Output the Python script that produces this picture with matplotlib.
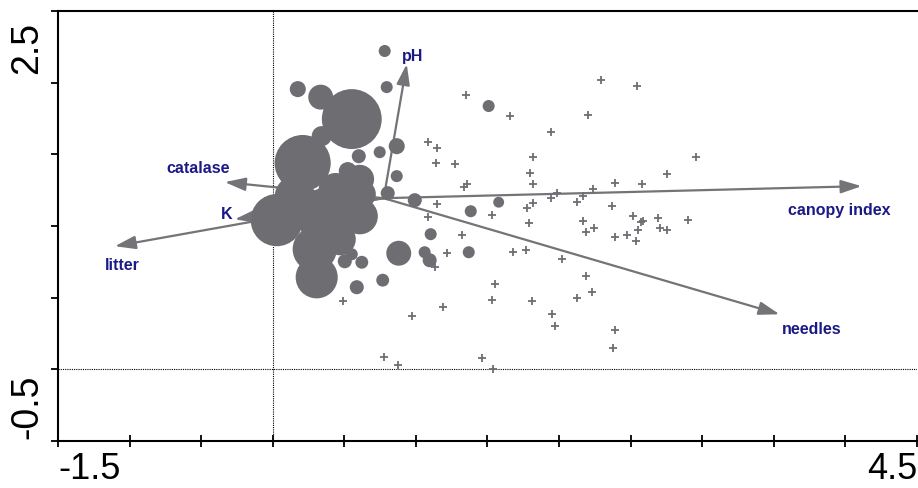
import numpy as np
import matplotlib
matplotlib.use("Agg")
import matplotlib.pyplot as plt
import matplotlib.transforms as mtransforms
from matplotlib.patches import Circle
from matplotlib.collections import PatchCollection

# ---- data (ordination scores) ----
# bubble sites: x, y, radius (data units)
bubble_x = [0.782, 0.175, 0.796, 0.866, 0.747, 0.601, 0.866, 0.803, 0.992, 1.508,
            1.103, 1.383, 1.578, 0.880, 1.061, 1.096, 1.369, 0.552, 0.503, 0.622,
            0.768, 0.587,
            0.552, 0.209, 0.335, 0.342, 0.028, 0.154, 0.384, 0.608, 0.503, 0.524,
            0.307, 0.293, 0.622, 0.468, 0.608, 0.440]
bubble_y = [2.221, 1.955, 1.969, 1.557, 1.515, 1.487, 1.348, 1.229, 1.180, 1.837,
            0.943, 1.103, 1.166, 0.810, 0.817, 0.761, 0.817, 0.803, 0.754, 0.747,
            0.622, 0.573,
            1.746, 1.439, 1.899, 1.627, 1.041, 1.208, 1.061, 1.068, 1.271, 1.383,
            0.642, 0.838, 1.222, 0.908, 1.327, 1.250]
bubble_r = [0.042, 0.056, 0.042, 0.056, 0.042, 0.049, 0.042, 0.049, 0.049, 0.042,
            0.042, 0.042, 0.038, 0.087, 0.042, 0.049, 0.042, 0.042, 0.049, 0.045,
            0.045, 0.049,
            0.209, 0.196, 0.087, 0.070, 0.182, 0.140, 0.209, 0.126, 0.098, 0.063,
            0.147, 0.154, 0.098, 0.112, 0.100, 0.120]

# cross sites
site_x = [1.348, 1.655, 2.291, 2.542, 2.200, 1.941, 1.082, 1.145, 1.138, 1.271,
          1.816, 1.795, 1.816, 2.954, 2.751, 2.388, 2.577, 2.235, 1.334, 1.355,
          1.983, 2.165, 1.941, 2.123, 1.816, 1.774, 1.145, 2.367, 1.082, 1.529,
          1.788, 2.165, 2.514, 2.570, 2.584, 2.689, 2.898, 2.186, 2.242, 2.549,
          2.703, 2.751, 2.388, 2.472, 1.320, 2.535, 1.215, 1.131, 1.676, 1.767,
          2.018, 2.186, 2.228, 2.123, 1.809, 1.550, 1.529, 1.187, 0.971, 1.948,
          1.969, 2.388, 2.374, 1.459, 1.536, 0.489, 0.775, 0.873]
site_y = [1.913, 1.767, 2.018, 1.976, 1.774, 1.655, 1.585, 1.543, 1.439, 1.432,
          1.480, 1.369, 1.292, 1.480, 1.362, 1.299, 1.292, 1.257, 1.271, 1.292,
          1.229, 1.208, 1.194, 1.166, 1.159, 1.124, 1.152, 1.138, 1.061, 1.075,
          1.020, 1.034, 1.068, 1.027, 1.034, 1.054, 1.041, 0.957, 0.985, 0.971,
          0.985, 0.971, 0.922, 0.936, 0.936, 0.894, 0.810, 0.712, 0.817, 0.831,
          0.768, 0.649, 0.538, 0.496, 0.475, 0.594, 0.482, 0.433, 0.370, 0.384,
          0.300, 0.272, 0.147, 0.077, 0.000, 0.475, 0.084, 0.028]

# environmental variable arrows
arrow_origin = (0.775, 1.194)
var_names = ["pH", "catalase", "K", "litter", "canopy index", "needles"]
var_x = [0.936, -0.335, -0.265, -1.103, 4.113, 3.540]
var_y = [2.130, 1.306, 1.047, 0.859, 1.278, 0.384]
label_x = [0.978, -0.524, -0.321, -1.054, 3.959, 3.764]
label_y = [2.193, 1.411, 1.089, 0.733, 1.117, 0.286]

x_ticks = np.arange(-1.5, 4.51, 0.5)
y_ticks = np.arange(-0.5, 2.51, 0.5)

# ---- style ----
GREY = "#6e6d72"
ARROW = "#747478"
NAVY = "#1a1a86"

plt.rcParams['font.family'] = ['Liberation Sans', 'DejaVu Sans']

fig = plt.figure(figsize=(9.18, 4.89), dpi=100)
ax = fig.add_axes([58 / 918, 47 / 489, 859 / 918, 430 / 489])
ax.set_xlim(-1.5, 4.5)
ax.set_ylim(-0.5, 2.5)

ax.axhline(0, color="black", lw=0.8, ls=(0, (1, 1)), zorder=1)
ax.axvline(0, color="black", lw=0.8, ls=(0, (1, 1)), zorder=1)

for name, tx, ty in zip(var_names, var_x, var_y):
    ax.annotate("", xy=(tx, ty), xytext=arrow_origin,
                arrowprops=dict(arrowstyle="-|>,head_length=12.5,head_width=4",
                                mutation_scale=1, lw=1.6, color=ARROW,
                                shrinkA=0, shrinkB=0),
                zorder=2)

for name, lx, ly in zip(var_names, label_x, label_y):
    ax.text(lx, ly, name, color=NAVY, fontsize=11.5, fontweight="bold",
            ha="center", va="center", zorder=5)

patches = [Circle((x, y), r) for x, y, r in zip(bubble_x, bubble_y, bubble_r)]
pc = PatchCollection(patches, facecolor=GREY, edgecolor="none", zorder=3)
ax.add_collection(pc)

ax.plot(site_x, site_y, ls="none", marker="+", ms=5.5, mew=1.3, color=GREY, zorder=4)

for side in ["left", "bottom", "top"]:
    ax.spines[side].set_linewidth(1.5)
ax.spines["right"].set_visible(False)

ax.set_xticks(x_ticks)
ax.set_yticks(y_ticks)
xl = ["" for _ in x_ticks]
xl[0], xl[-1] = "-1.5", "4.5"
yl = ["" for _ in y_ticks]
yl[0], yl[-1] = "-0.5", "2.5"
ax.set_xticklabels(xl)
ax.set_yticklabels(yl, rotation=90)
ax.tick_params(axis="x", direction="inout", length=8, width=1.3, labelsize=26, pad=3)
ax.tick_params(axis="y", direction="out", length=5, width=1.3, labelsize=27, pad=4)
xtl = ax.get_xticklabels()
xtl[0].set_ha("left")
xtl[-1].set_ha("right")
ytl = ax.get_yticklabels()
ytl[0].set_va("bottom")
ytl[-1].set_va("top")
ytl[-1].set_transform(ytl[-1].get_transform() +
                      mtransforms.ScaledTranslation(0, -10 / 100, fig.dpi_scale_trans))
ytl[0].set_transform(ytl[0].get_transform() +
                     mtransforms.ScaledTranslation(0, 3 / 100, fig.dpi_scale_trans))

fig.savefig("out.png", dpi=100)
